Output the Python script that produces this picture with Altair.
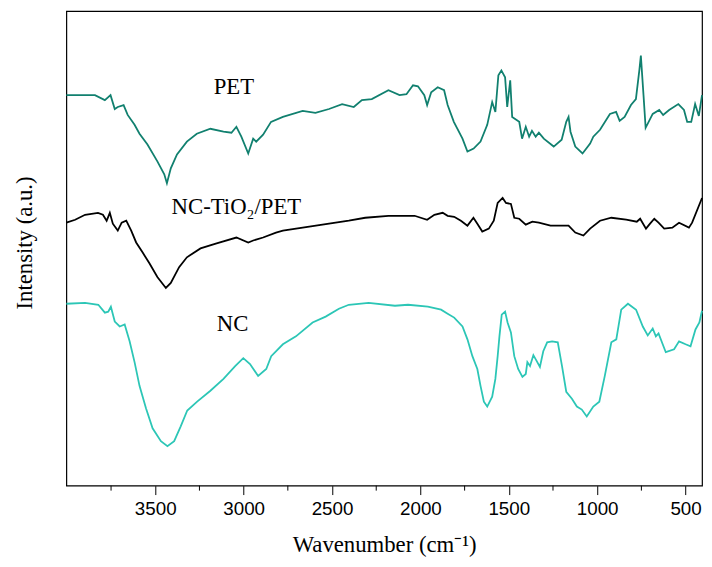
import altair as alt
import pandas as pd

# ---- data (wavenumber in cm-1, intensity in arbitrary units) ----
pet_wn = [4003, 3841, 3785, 3753, 3729, 3712, 3679, 3656, 3617, 3589, 3544, 3488, 3449, 3434,
          3412, 3377, 3321, 3265, 3188, 3114, 3069, 3041, 3013, 2974, 2946, 2929, 2890, 2845,
          2778, 2666, 2594, 2517, 2443, 2377, 2331, 2275, 2181, 2118, 2079, 2042, 2014, 1978,
          1962, 1939, 1902, 1866, 1846, 1811, 1762, 1734, 1699, 1660, 1622, 1594, 1576, 1559,
          1542, 1521, 1509, 1492, 1481, 1441, 1425, 1404, 1385, 1369, 1348, 1330, 1302, 1246,
          1201, 1175, 1162, 1151, 1124, 1083, 1040, 1022, 984, 928, 893, 873, 845, 809, 781,
          761, 753, 738, 726, 686, 649, 627, 593, 541, 509, 491, 468, 446, 425, 407]
pet_int = [407, 407, 402, 407, 393, 395, 397, 387, 377, 368, 357, 340, 327, 318,
           333, 347, 360, 368, 373, 370, 369, 375, 365, 348, 363, 360, 367, 380,
           385, 391, 389, 393, 398, 395, 402, 403, 412, 407, 408, 417, 416, 407,
           397, 410, 415, 412, 397, 380, 363, 350, 353, 360, 377, 400, 390, 427,
           432, 425, 395, 422, 385, 380, 363, 375, 365, 371, 365, 369, 363, 355,
           362, 380, 385, 370, 355, 348, 358, 365, 372, 388, 390, 381, 385, 397, 403,
           433, 447, 407, 374, 388, 392, 387, 392, 398, 392, 380, 380, 398, 386, 407]

nct_wn = [4003, 3953, 3897, 3824, 3796, 3775, 3757, 3740, 3712, 3690, 3664, 3636, 3608, 3572,
          3533, 3488, 3440, 3412, 3365, 3321, 3244, 3153, 3041, 2974, 2946, 2890, 2817, 2778,
          2666, 2517, 2405, 2312, 2181, 2033, 1962, 1921, 1874, 1846, 1809, 1771, 1734, 1700,
          1678, 1650, 1613, 1585, 1563, 1535, 1516, 1488, 1469, 1441, 1404, 1367, 1330, 1264,
          1162, 1124, 1078, 1040, 984, 920, 836, 776, 757, 724, 701, 677, 653, 621, 575, 537,
          481, 463, 407]
nct_int = [278, 281, 286, 288, 286, 280, 288, 277, 270, 278, 280, 270, 258, 248,
           237, 223, 212, 217, 233, 243, 252, 257, 263, 258, 260, 263, 268, 270,
           273, 277, 280, 283, 285, 285, 281, 286, 288, 285, 284, 280, 275, 283,
           277, 269, 272, 280, 298, 303, 298, 297, 283, 282, 276, 279, 278, 275,
           275, 268, 265, 272, 280, 283, 281, 279, 282, 272, 277, 282, 278, 272, 273, 278,
           273, 278, 303]

nc_wn = [4003, 3897, 3822, 3785, 3766, 3751, 3729, 3701, 3673, 3645, 3617, 3589, 3552, 3515,
         3468, 3431, 3393, 3356, 3319, 3263, 3188, 3114, 3048, 3002, 2964, 2918, 2872, 2844,
         2778, 2704, 2610, 2536, 2461, 2405, 2293, 2144, 2070, 1958, 1883, 1846, 1809, 1762,
         1734, 1706, 1678, 1660, 1641, 1622, 1594, 1576, 1563, 1553, 1540, 1521, 1507, 1488,
         1469, 1447, 1423, 1404, 1395, 1380, 1361, 1342, 1324, 1305, 1283, 1255, 1223, 1199,
         1175, 1143, 1115, 1087, 1059, 1022, 988, 957, 920, 892, 864, 826, 780, 742, 714, 686,
         668, 653, 612, 565, 537, 500, 472, 444, 422, 407]
nc_int = [196, 197, 195, 187, 188, 193, 178, 173, 175, 158, 137, 113, 90, 70,
          57, 52, 57, 72, 88, 97, 108, 120, 133, 141, 135, 123, 130, 143,
          155, 163, 177, 183, 191, 195, 197, 194, 195, 193, 190, 186, 182, 173,
          160, 143, 130, 113, 97, 92, 102, 120, 143, 163, 185, 188, 177, 167,
          143, 130, 122, 125, 137, 133, 144, 138, 132, 148, 157, 158, 157, 133,
          107, 100, 92, 89, 82, 92, 97, 123, 157, 160, 190, 196, 190, 173, 164, 171,
          163, 166, 147, 150, 158, 155, 153, 170, 177, 189]

series_names = ["PET", "NC-TiO2/PET", "NC"]
series_colors = ["#11806f", "#000000", "#2cc6b6"]

label_text = ["PET", "NC-TiO\u2082/PET", "NC"]
label_wn = [3055, 3041, 3063]
label_int = [408, 287, 168]

major_ticks = [500, 1000, 1500, 2000, 2500, 3000, 3500]
minor_ticks = [750, 1250, 1750, 2250, 2750, 3250, 3750]

rows = []
for name, wns, vals in zip(series_names, [pet_wn, nct_wn, nc_wn], [pet_int, nct_int, nc_int]):
    for i, (w, v) in enumerate(zip(wns, vals)):
        rows.append({"series": name, "wn": w, "val": v, "idx": i})
df = pd.DataFrame(rows)
labels_df = pd.DataFrame({"text": label_text, "wn": label_wn, "val": label_int})

xscale = alt.Scale(domain=[407, 4003], reverse=True, nice=False, zero=False)
yscale = alt.Scale(domain=[12, 492], nice=False, zero=False)

xaxis = alt.Axis(orient="bottom", values=major_ticks, title="Wavenumber (cm\u207b\u00b9)", grid=False,
                 domain=False, tickSize=9, tickColor="black", tickWidth=1,
                 labelFont="Liberation Sans", labelFontSize=19, labelColor="black",
                 labelPadding=5, labelFlush=False, format="d",
                 titleFont="Liberation Serif", titleFontSize=23, titleFontWeight="normal",
                 titleColor="black", titleBaseline="alphabetic", titleY=67)
yaxis = alt.Axis(title="Intensity (a.u.)", labels=False, ticks=False, grid=False, domain=False,
                 titleFont="Liberation Serif", titleFontSize=23, titleFontWeight="normal",
                 titleColor="black", titleBaseline="alphabetic", titleAngle=270,
                 titleAlign="center", titleX=-35, titleY=234)

lines = alt.Chart(df).mark_line(strokeWidth=1.8, interpolate="linear").encode(
    x=alt.X("wn:Q", scale=xscale, axis=xaxis),
    y=alt.Y("val:Q", scale=yscale, axis=yaxis),
    color=alt.Color("series:N", scale=alt.Scale(domain=series_names, range=series_colors), legend=None),
    order=alt.Order("idx:Q"),
)

# minor ticks below the frame (x from the shared scale)
minor = alt.Chart(pd.DataFrame({"wn": minor_ticks})).mark_rule(color="black", strokeWidth=1).encode(
    x=alt.X("wn:Q", scale=xscale, axis=xaxis),
    y=alt.value(480),
    y2=alt.value(485),
)

texts = alt.Chart(labels_df).mark_text(font="Liberation Serif", fontSize=23, color="black",
                                        baseline="alphabetic", align="center").encode(
    x=alt.X("wn:Q", scale=xscale, axis=xaxis),
    y=alt.Y("val:Q", scale=yscale, axis=yaxis),
    text="text:N",
)

chart = alt.layer(lines, texts, minor).properties(
    width=643, height=480,
    background="white",
    autosize=alt.AutoSizeParams(type="none"),
    padding={"left": 59, "top": 0, "right": 2, "bottom": 70},
).configure_view(stroke="black", strokeWidth=1.2)

chart.save("out.html", embed_options={"renderer": "svg", "actions": False})
